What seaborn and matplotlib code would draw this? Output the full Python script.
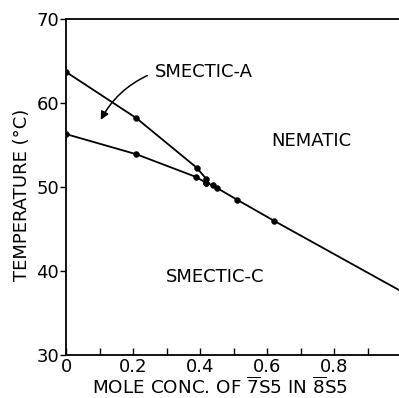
import matplotlib
matplotlib.use("Agg")
import matplotlib.pyplot as plt
import seaborn as sns
import numpy as np

# phase boundary data
sma_x = [0.0, 0.21, 0.39, 0.418]
sma_y = [63.7, 58.2, 52.3, 51.0]

smc_x = [0.0, 0.21, 0.388, 0.418]
smc_y = [56.3, 53.9, 51.2, 50.5]

nem_x = [0.418, 0.438, 0.45, 0.51, 0.62, 1.0]
nem_y = [50.5, 50.2, 49.9, 48.5, 46.0, 37.6]
nem_pts = 5  # last point of the line carries no marker

sns.set_style("ticks")
plt.rcParams["font.family"] = ["DejaVu Sans"]
plt.rcParams["mathtext.fontset"] = "dejavusans"
for k in ["text.color", "axes.labelcolor", "xtick.color", "ytick.color"]:
    plt.rcParams[k] = "black"

fig = plt.figure(figsize=(3.99, 3.98), dpi=100)
ax = fig.add_axes([66 / 399, 43 / 398, 1 - 66 / 399, (355 - 19) / 398])

for xs, ys in [(sma_x, sma_y), (smc_x, smc_y), (nem_x, nem_y)]:
    sns.lineplot(x=xs, y=ys, color="black", lw=1.3, sort=False, ax=ax)

sns.scatterplot(x=sma_x + smc_x + nem_x[:nem_pts], y=sma_y + smc_y + nem_y[:nem_pts],
                color="black", s=18, edgecolor="black", zorder=3, ax=ax)

ax.set_xlim(0, 0.994)
ax.set_ylim(30, 70)

ax.text(0.266, 63.7, "SMECTIC-A", fontsize=13, va="center", ha="left")
ax.text(0.731, 55.5, "NEMATIC", fontsize=13, va="center", ha="center")
ax.text(0.445, 39.3, "SMECTIC-C", fontsize=13, va="center", ha="center")

ax.annotate("", xy=(0.10, 57.7), xytext=(0.25, 63.4),
            arrowprops=dict(arrowstyle="-|>", color="black", lw=1.1,
                            connectionstyle="arc3,rad=0.18", mutation_scale=12))

ax.set_xticks(np.arange(0, 1.0, 0.1))
ax.set_xticklabels(["0", "", "0.2", "", "0.4", "", "0.6", "", "0.8", ""])
ax.set_yticks([30, 40, 50, 60, 70])

ax.tick_params(axis="x", direction="in", length=5, width=1, pad=2, labelsize=13)
ax.tick_params(axis="y", direction="out", length=4, width=1, pad=1, labelsize=13)

for s in ["left", "bottom", "top"]:
    ax.spines[s].set_linewidth(1.3)
    ax.spines[s].set_color("black")
ax.spines["right"].set_visible(False)

ax.set_xlabel(r"MOLE CONC. OF $\overline{\mathrm{7}}$S5 IN $\overline{\mathrm{8}}$S5",
              fontsize=13.2)
ax.xaxis.set_label_coords(0.461, -0.063)
ax.set_ylabel("TEMPERATURE (\u00b0C)", fontsize=13)
ax.yaxis.set_label_coords(-0.105, 0.476)

fig.savefig("out.png", dpi=100)
